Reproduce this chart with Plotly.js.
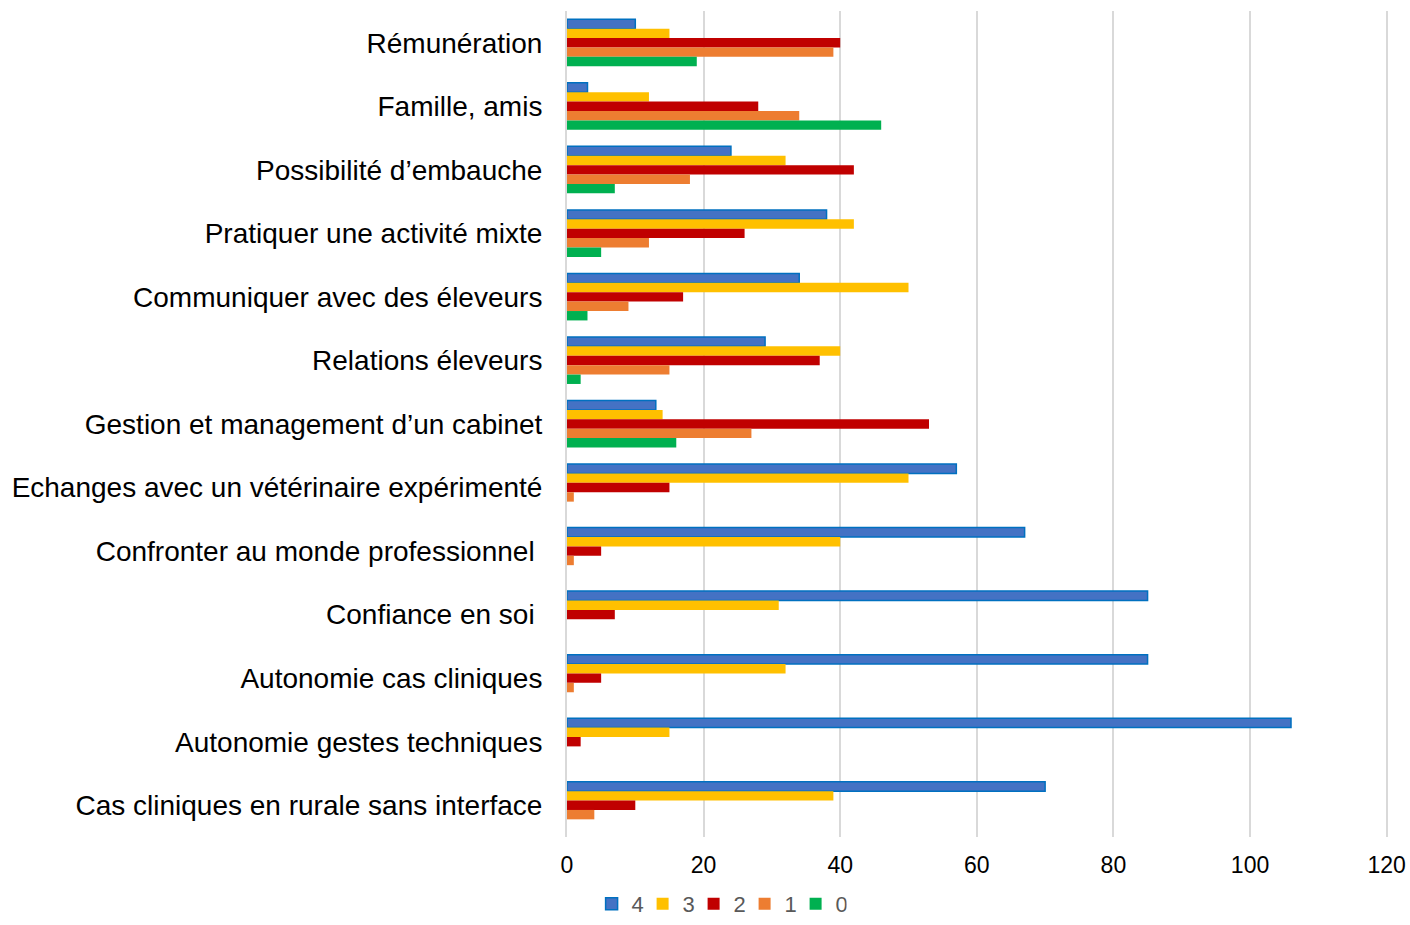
<!DOCTYPE html>
<html><head><meta charset="utf-8">
<script src="https://cdn.plot.ly/plotly-3.0.1.min.js"></script>
<style>body{margin:0;background:#fff}#c{width:1410px;height:925px}</style>
</head><body><div id="c"></div><script>
const categories = [
  "Rémunération",
  "Famille, amis",
  "Possibilité d’embauche",
  "Pratiquer une activité mixte",
  "Communiquer avec des éleveurs",
  "Relations éleveurs",
  "Gestion et management d’un cabinet",
  "Echanges avec un vétérinaire expérimenté",
  "Confronter au monde professionnel\u00A0",
  "Confiance en soi\u00A0",
  "Autonomie cas cliniques",
  "Autonomie gestes techniques",
  "Cas cliniques en rurale sans interface"
];
const s4 = [10, 3, 24, 38, 34, 29, 13, 57, 67, 85, 85, 106, 70];
const s3 = [15, 12, 32, 42, 50, 40, 14, 50, 40, 31, 32, 15, 39];
const s2 = [40, 28, 42, 26, 17, 37, 53, 15, 5, 7, 5, 2, 10];
const s1 = [39, 34, 18, 12, 9, 15, 27, 1, 1, 0, 1, 0, 4];
const s0 = [19, 46, 7, 5, 3, 2, 16, 0, 0, 0, 0, 0, 0];
const seriesNames = ["4", "3", "2", "1", "0"];
const seriesValues = [s4, s3, s2, s1, s0];
const colors = ["#4472C4", "#FFC000", "#C00000", "#ED7D31", "#00B050"];
const lineColors = ["#0070C0", "#FFC000", "#C00000", "#ED7D31", "#00B050"];

const traces = seriesValues.map((v, i) => ({
  type: "bar", orientation: "h", name: seriesNames[i],
  y: categories, x: v,
  marker: {color: colors[i], line: {color: lineColors[i], width: i === 0 ? 1.5 : 0}},
  hoverinfo: "x+y"
}));

const layout = {
  width: 1410, height: 925,
  margin: {l: 567, r: 22, t: 11, b: 88},
  paper_bgcolor: "#fff", plot_bgcolor: "#fff",
  barmode: "group", bargap: 0.26, bargroupgap: 0,
  font: {family: "Arial, Liberation Sans, sans-serif", color: "#000"},
  xaxis: {
    range: [0, 120.2], tickvals: [0, 20, 40, 60, 80, 100, 120], showgrid: true, gridcolor: "#d9d9d9", gridwidth: 2,
    zeroline: false, showline: false, ticks: "", ticklabelstandoff: 12,
    tickfont: {size: 23, color: "#000"}
  },
  yaxis: {
    autorange: "reversed", showgrid: false, zeroline: false, showline: true,
    linecolor: "#d9d9d9", linewidth: 2, ticks: "", ticklabelstandoff: 17,
    tickfont: {size: 28, color: "#000"}
  },
  showlegend: true,
  legend: {
    orientation: "h", xref: "container", yref: "container",
    x: 0.51, xanchor: "center", y: 0, yanchor: "bottom",
    font: {size: 22, color: "#595959"}, traceorder: "normal",
    itemwidth: 30, entrywidth: 6, entrywidthmode: "pixels"
  }
};
Plotly.newPlot("c", traces, layout, {displayModeBar: false, staticPlot: true});
</script></body></html>
